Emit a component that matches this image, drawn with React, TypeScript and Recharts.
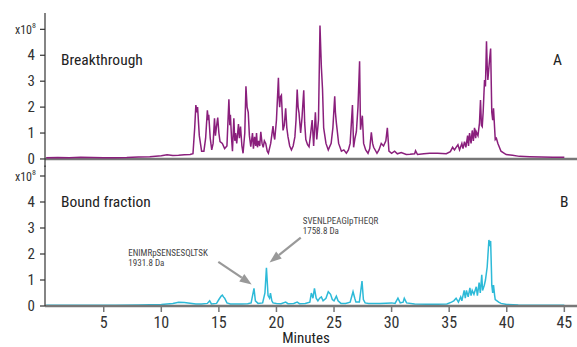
import React from 'react';
import { LineChart, Line, XAxis, YAxis, ReferenceLine } from 'recharts';

const breakthroughTime = [
  0, 1, 2, 3, 4, 5, 6, 7, 8, 9, 10, 10.5, 11, 11.5, 12, 12.5, 12.75, 12.9, 13.0, 13.1, 13.15, 13.3, 13.5, 13.7, 13.85,
  14.0, 14.08, 14.12, 14.25, 14.38, 14.5, 14.62, 14.7, 14.78, 14.9, 15.0, 15.1, 15.3, 15.5, 15.7, 15.87, 15.95, 16.0,
  16.1, 16.18, 16.3, 16.38, 16.45, 16.55, 16.7, 16.78, 16.88, 17.0, 17.1, 17.25, 17.35, 17.45, 17.55, 17.65, 17.77,
  17.92, 18.0, 18.1, 18.2, 18.27, 18.35, 18.45, 18.55, 18.64, 18.75, 18.85, 18.95, 19.07, 19.2, 19.3, 19.5, 19.7,
  19.78, 19.85, 20.0, 20.17, 20.22, 20.28, 20.35, 20.43, 20.57, 20.68, 20.8, 20.9, 21.0, 21.15, 21.3, 21.45, 21.6,
  21.7, 21.8, 21.88, 21.96, 22.1, 22.22, 22.37, 22.45, 22.55, 22.7, 22.83, 22.95, 23.1, 23.23, 23.38, 23.5, 23.65,
  23.78, 23.85, 23.9, 24.0, 24.1, 24.3, 24.5, 24.75, 24.9, 25.06, 25.12, 25.2, 25.4, 25.64, 25.85, 26.07, 26.25, 26.4,
  26.6, 26.7, 26.82, 26.94, 27.08, 27.22, 27.3, 27.46, 27.57, 27.75, 27.95, 28.1, 28.24, 28.35, 28.44, 28.73, 28.9,
  29.1, 29.3, 29.5, 29.63, 29.77, 30.0, 30.26, 30.5, 30.84, 31.27, 31.6, 32.0, 32.08, 32.25, 32.8, 33.3, 34.0, 34.75,
  35.1, 35.3, 35.46, 35.6, 35.76, 35.9, 36.1, 36.2, 36.33, 36.45, 36.6, 36.68, 36.77, 36.9, 37.0, 37.1, 37.2, 37.3,
  37.35, 37.5, 37.63, 37.72, 37.8, 37.87, 37.95, 38.07, 38.15, 38.24, 38.3, 38.36, 38.5, 38.6, 38.65, 38.7, 38.78,
  38.85, 39.0, 39.1, 39.23, 39.5, 39.95, 40.5, 41.1, 42, 43, 44, 45,
];
const breakthroughValue = [
  0.05, 0.06, 0.05, 0.07, 0.06, 0.05, 0.05, 0.06, 0.08, 0.09, 0.12, 0.16, 0.13, 0.14, 0.16, 0.17, 0.2, 1.2, 2.08, 1.8, 2.0, 0.9, 0.3, 0.3, 0.8,
  1.88, 1.5, 1.7, 0.8, 0.35, 0.6, 1.57, 0.9, 1.2, 1.6, 1.0, 0.67, 0.6, 0.4, 0.5, 2.3, 1.3, 1.7,
  0.8, 0.3, 1.57, 0.7, 1.0, 0.6, 1.35, 0.8, 1.25, 0.5, 0.22, 1.0, 2.8, 2.0, 1.8, 0.9, 0.47,
  1.0, 0.4, 0.85, 0.5, 1.0, 0.45, 0.7, 0.5, 1.05, 0.6, 0.45, 0.7, 0.6, 0.3, 0.22, 0.6, 1.27,
  0.9, 0.75, 1.5, 3.13, 2.4, 2.0, 2.4, 2.46, 1.1, 1.3, 1.95, 1.2, 0.86, 0.5, 0.35, 0.5, 0.85,
  1.5, 2.68, 2.0, 1.77, 1.0, 1.6, 2.65, 1.4, 0.75, 0.55, 0.47, 0.9, 1.5, 0.5, 1.8, 0.75, 1.5,
  5.15, 4.2, 3.55, 2.7, 1.2, 0.6, 0.35, 0.6, 1.2, 2.42, 1.8, 1.4, 0.6, 0.3, 0.35, 0.22, 0.35, 0.6,
  2.08, 0.45, 0.8, 1.05, 2.0, 3.77, 1.13, 1.67, 0.6, 0.35, 0.22, 0.4, 1.03, 0.6, 0.45, 0.22, 0.35,
  0.6, 0.5, 0.7, 1.2, 0.3, 0.22, 0.3, 0.2, 0.25, 0.17, 0.18, 0.2, 0.32, 0.17, 0.2, 0.22, 0.22, 0.2,
  0.28, 0.45, 0.35, 0.45, 0.55, 0.35, 0.6, 0.4, 0.67, 0.45, 0.9, 0.5, 1.0, 0.6, 1.1, 0.7, 1.2, 0.8,
  1.05, 0.9, 1.38, 2.27, 1.3, 1.25, 1.8, 3.04, 2.8, 4.54, 3.6, 3.05, 3.8, 4.26, 3.0, 1.8, 1.5,
  1.95, 0.75, 0.8, 0.6, 0.3, 0.17, 0.14, 0.1, 0.09, 0.08, 0.07, 0.07,
];

const boundTime = [
  0, 2, 4, 6, 8, 9, 10, 10.5, 11, 11.5, 12, 12.5, 13, 13.5, 14, 14.2, 14.35, 14.8, 15.0, 15.2, 15.3, 15.4, 15.5, 15.7,
  16, 16.5, 17, 17.5, 17.8, 18.05, 18.17, 18.4, 18.8, 19.0, 19.13, 19.27, 19.4, 19.48, 19.6, 19.7, 20, 20.4, 20.8, 21,
  21.5, 21.8, 22, 22.5, 22.9, 23.03, 23.17, 23.3, 23.45, 23.6, 23.75, 23.9, 24.05, 24.3, 24.5, 24.7, 24.85, 25, 25.2,
  25.35, 25.6, 26, 26.4, 26.65, 26.8, 26.9, 27.2, 27.43, 27.55, 27.7, 28, 29, 30, 30.3, 30.55, 30.75, 31, 31.1, 31.3,
  32, 33, 34, 34.8, 35.2, 35.4, 35.6, 35.8, 36, 36.1, 36.3, 36.4, 36.5, 36.65, 36.8, 36.9, 37, 37.15, 37.35, 37.45,
  37.6, 37.7, 37.83, 37.9, 38.05, 38.15, 38.3, 38.45, 38.52, 38.6, 38.68, 38.7, 38.78, 38.85, 38.95, 39, 39.3, 39.5,
  40, 41, 42, 43, 44, 45,
];
const boundValue = [
  0.03, 0.03, 0.03, 0.03, 0.04, 0.05, 0.06, 0.08, 0.1, 0.14, 0.13, 0.11, 0.08, 0.08, 0.1, 0.2, 0.08, 0.1, 0.25, 0.38, 0.42, 0.35, 0.3, 0.12,
  0.08, 0.08, 0.08, 0.09, 0.12, 0.68, 0.2, 0.1, 0.12, 0.5, 1.47, 0.4, 0.3, 0.49, 0.2, 0.12, 0.1, 0.09, 0.15, 0.09,
  0.1, 0.15, 0.09, 0.1, 0.15, 0.5, 0.3, 0.68, 0.3, 0.2, 0.3, 0.35, 0.2, 0.3, 0.55, 0.45, 0.25, 0.2, 0.38,
  0.2, 0.1, 0.1, 0.15, 0.55, 0.3, 0.15, 0.15, 0.96, 0.25, 0.12, 0.1, 0.1, 0.12, 0.1, 0.3, 0.12, 0.15, 0.3, 0.12,
  0.08, 0.07, 0.07, 0.08, 0.15, 0.2, 0.3, 0.15, 0.35, 0.2, 0.6, 0.3, 0.6, 0.35, 0.7, 0.4, 0.6, 0.45, 0.74, 0.4,
  0.9, 0.5, 1.2, 0.6, 0.8, 1.0, 1.5, 2.54, 2.3, 2.5, 1.2, 0.8, 0.5, 0.8, 0.4, 0.25, 0.15, 0.1,
  0.06, 0.04, 0.03, 0.03, 0.03, 0.03,
];

const xTicks = [5, 10, 15, 20, 25, 30, 35, 40, 45];
const yTicks = [0, 1, 2, 3, 4, 5];
const panelTitles = ['Breakthrough', 'Bound fraction'];
const panelLetters = ['A', 'B'];
const xTitle = 'Minutes';

const annotations = [
  { lines: ['ENIMRpSENSESQLTSK', '1931.8 Da'], from: { x: 14.95, y: 1.7 }, to: { x: 17.85, y: 0.83 }, dx: -90, dy: -6 },
  { lines: ['SVENLPEAGIpTHEQR', '1758.8 Da'], from: { x: 22.11, y: 2.63 }, to: { x: 19.4, y: 1.67 }, dx: 2, dy: -14 },
];

const FONT = "'Liberation Sans Narrow', 'Roboto Condensed', 'Arial Narrow', Roboto, sans-serif";
const PURPLE = '#8a1f7c';
const CYAN = '#2dbad8';

const topData = breakthroughTime.map((t, i) => ({ t, v: breakthroughValue[i] }));
const bottomData = boundTime.map((t, i) => ({ t, v: boundValue[i] }));

const YTick = (props: any) => {
  const { x, y, payload } = props;
  if (payload.value === 5) {
    return (
      <text x={x + 1} y={y} dy={4.5} textAnchor="end" fill="#333" fontSize={12} fontFamily={FONT}>
        x10<tspan dy={-6} fontSize={8}>8</tspan>
      </text>
    );
  }
  return (
    <text x={x} y={y} dy={5} textAnchor="end" fill="#333" fontSize={15} fontFamily={FONT}>
      {payload.value}
    </text>
  );
};

const makeArrow = (a: any) => (props: any) => {
  const { x1, y1, x2, y2 } = props;
  const ang = Math.atan2(y2 - y1, x2 - x1);
  const L = 12;
  const W = 4.5;
  const bx = x2 - L * Math.cos(ang);
  const by = y2 - L * Math.sin(ang);
  const px = -Math.sin(ang) * W;
  const py = Math.cos(ang) * W;
  return (
    <g>
      <line x1={x1} y1={y1} x2={bx} y2={by} stroke="#999" strokeWidth={2.2} />
      <polygon points={`${x2},${y2} ${bx + px},${by + py} ${bx - px},${by - py}`} fill="#999" />
      <text x={x1 + a.dx} y={y1 + a.dy} fontSize={9} fill="#444" fontFamily={FONT}>
        {a.lines[0]}
        <tspan x={x1 + a.dx} dy={10.5}>{a.lines[1]}</tspan>
      </text>
    </g>
  );
};

export default function App() {
  return (
    <div style={{ position: 'absolute', left: 0, top: 0, width: 577, height: 347, background: '#fff', fontFamily: FONT }}>
      <div style={{ position: 'absolute', left: 0, top: 0 }}>
        <LineChart width={577} height={170} data={topData} margin={{ top: 13, right: 0, bottom: 3, left: 0 }}>
          <XAxis type="number" dataKey="t" domain={[-0.1, 46.1]} hide />
          <YAxis
            type="number"
            width={45}
            domain={[-0.31, 5.63]}
            ticks={yTicks}
            tick={<YTick />}
            tickSize={5}
            tickMargin={5}
            axisLine={{ stroke: '#333', strokeWidth: 1.2 }}
            tickLine={{ stroke: '#333', strokeWidth: 1.2 }}
            interval={0}
          />
          <ReferenceLine y={0} stroke="#777" strokeWidth={2.6} />
          <Line type="linear" dataKey="v" stroke={PURPLE} strokeWidth={1.5} dot={false} isAnimationActive={false} />
        </LineChart>
      </div>
      <div style={{ position: 'absolute', left: 0, top: 160 }}>
        <LineChart width={577} height={187} data={bottomData} margin={{ top: 5.6, right: 0, bottom: 0, left: 0 }}>
          <XAxis
            type="number"
            dataKey="t"
            domain={[-0.1, 46.1]}
            ticks={xTicks}
            interval={0}
            height={41}
            tickSize={6}
            tickMargin={5}
            axisLine={{ stroke: '#777', strokeWidth: 2.6 }}
            tickLine={{ stroke: '#777', strokeWidth: 1.5 }}
            tick={{ fontSize: 16, fill: '#333', fontFamily: FONT }}
          />
          <YAxis
            type="number"
            width={45}
            domain={[0, 5.4]}
            ticks={yTicks}
            tick={<YTick />}
            tickSize={5}
            tickMargin={5}
            axisLine={{ stroke: '#333', strokeWidth: 1.2 }}
            tickLine={{ stroke: '#333', strokeWidth: 1.2 }}
            interval={0}
          />
          {annotations.map((a, i) => (
            <ReferenceLine
              key={i}
              segment={[a.from, a.to]}
              ifOverflow="visible"
              shape={makeArrow(a)}
            />
          ))}
          <Line type="linear" dataKey="v" stroke={CYAN} strokeWidth={1.5} dot={false} isAnimationActive={false} />
        </LineChart>
      </div>
      <svg width={577} height={347} style={{ position: 'absolute', left: 0, top: 0, pointerEvents: 'none' }}>
        <text x={61} y={65} fontSize={15.5} fill="#222" fontFamily={FONT}>{panelTitles[0]}</text>
        <text x={553} y={65} fontSize={15.5} fill="#222" fontFamily={FONT}>{panelLetters[0]}</text>
        <text x={61} y={206.5} fontSize={15.5} fill="#222" fontFamily={FONT}>{panelTitles[1]}</text>
        <text x={560} y={206.5} fontSize={15.5} fill="#222" fontFamily={FONT}>{panelLetters[1]}</text>
        <text x={306} y={343} fontSize={15} fill="#222" textAnchor="middle" fontFamily={FONT}>{xTitle}</text>
      </svg>
    </div>
  );
}
